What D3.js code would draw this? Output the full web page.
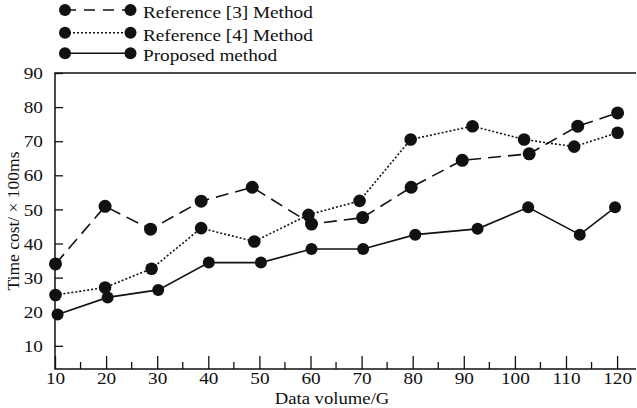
<!DOCTYPE html>
<html>
<head>
<meta charset="utf-8">
<script src="https://cdn.jsdelivr.net/npm/d3@7"></script>
<style>
  body { margin: 0; background: #fff; }
  svg text { font-family: "Liberation Serif", "Times New Roman", serif; fill: #111; }
</style>
</head>
<body>
<div id="chart"></div>
<script>
// Data
const seriesNames = ['Reference [3] Method', 'Reference [4] Method', 'Proposed method'];
const ref3X = [10.1, 19.8, 28.7, 38.6, 48.6, 60.2, 70.2, 79.7, 89.7, 102.8, 112.3, 120.1];
const ref3Y = [34.0, 50.9, 44.2, 52.4, 56.5, 45.7, 47.6, 56.5, 64.4, 66.3, 74.4, 78.3];
const ref4X = [10.1, 19.8, 28.9, 38.6, 49.0, 59.6, 69.6, 79.6, 91.7, 101.8, 111.6, 120.1];
const ref4Y = [24.9, 27.1, 32.6, 44.5, 40.6, 48.4, 52.5, 70.5, 74.4, 70.5, 68.4, 72.5];
const propX = [10.5, 20.3, 30.2, 40.1, 50.3, 60.2, 70.3, 80.5, 92.7, 102.6, 112.7, 119.6];
const propY = [19.2, 24.2, 26.4, 34.4, 34.4, 38.4, 38.4, 42.6, 44.3, 50.6, 42.6, 50.6];
const xTicks = [10, 20, 30, 40, 50, 60, 70, 80, 90, 100, 110, 120];
const xMinorTicks = [15, 25, 35, 45, 55, 65, 75, 85, 95, 105, 115];
const yTicks = [10, 20, 30, 40, 50, 60, 70, 80, 90];

const W = 637, H = 408;
const plot = { left: 55, right: 636, top: 73, bottom: 369 };
const stretch = 'scale(1.1,1)'; // glyphs in the figure are a bit wide

const svg = d3.select('#chart').append('svg')
  .attr('width', W)
  .attr('height', H);

const x = d3.scaleLinear().domain([10, 123.7]).range([plot.left, plot.right]);
const y = d3.scaleLinear().domain([3.2, 90]).range([plot.bottom, plot.top]);

// y axis (ticks point into the plot)
const yAxis = svg.append('g')
  .attr('transform', `translate(${plot.left},0)`)
  .call(d3.axisLeft(y).tickValues(yTicks).tickSize(-8).tickPadding(11));
yAxis.select('.domain').remove();
yAxis.selectAll('line').attr('stroke', '#111').attr('stroke-width', 1.3);
yAxis.selectAll('text').style('font-size', '17.5px').attr('transform', stretch);

// x axis, major and minor ticks inward
const xAxis = svg.append('g')
  .attr('transform', `translate(0,${plot.bottom})`)
  .call(d3.axisBottom(x).tickValues(xTicks).tickSize(-13).tickPadding(3));
xAxis.select('.domain').remove();
xAxis.selectAll('line').attr('stroke', '#111').attr('stroke-width', 1.3);
xAxis.selectAll('text').style('font-size', '17.5px').attr('transform', stretch);

svg.append('g')
  .selectAll('line')
  .data(xMinorTicks)
  .join('line')
  .attr('x1', d => x(d)).attr('x2', d => x(d))
  .attr('y1', plot.bottom).attr('y2', plot.bottom - 7)
  .attr('stroke', '#111').attr('stroke-width', 1.3);

// frame: left, bottom, top
svg.append('path')
  .attr('d', `M${plot.right},${plot.top}H${plot.left}V${plot.bottom}H${plot.right}`)
  .attr('fill', 'none')
  .attr('stroke', '#111')
  .attr('stroke-width', 1.5);

// axis titles
svg.append('text')
  .attr('transform', 'translate(332,404) ' + stretch)
  .attr('text-anchor', 'middle')
  .style('font-size', '17px')
  .text('Data volume/G');

svg.append('text')
  .attr('transform', `translate(19,${(plot.top + plot.bottom) / 2}) rotate(-90)`)
  .attr('text-anchor', 'middle')
  .style('font-size', '17.5px')
  .text('Time cost/ × 100ms');

const styles = [
  { dash: '13,7', r: 6.5 },
  { dash: '2,2', r: 6.3 },
  { dash: null, r: 6 }
];
const series = [
  ref3X.map((v, i) => [v, ref3Y[i]]),
  ref4X.map((v, i) => [v, ref4Y[i]]),
  propX.map((v, i) => [v, propY[i]])
];

const line = d3.line().x(d => x(d[0])).y(d => y(d[1]));

series.forEach((pts, k) => {
  svg.append('path')
    .datum(pts)
    .attr('d', line)
    .attr('fill', 'none')
    .attr('stroke', '#111')
    .attr('stroke-width', 1.6)
    .attr('stroke-dasharray', styles[k].dash);
  svg.append('g')
    .selectAll('circle')
    .data(pts)
    .join('circle')
    .attr('cx', d => x(d[0]))
    .attr('cy', d => y(d[1]))
    .attr('r', styles[k].r)
    .attr('fill', '#111');
});

// legend
const legendRows = [10, 32.7, 53.3];
const legendBaselines = [18.3, 40.7, 60.7];
seriesNames.forEach((name, k) => {
  const g = svg.append('g');
  g.append('line')
    .attr('x1', 65).attr('x2', 130.5)
    .attr('y1', legendRows[k]).attr('y2', legendRows[k])
    .attr('stroke', '#111').attr('stroke-width', 1.6)
    .attr('stroke-dasharray', k === 0 ? '11,8' : styles[k].dash);
  g.selectAll('circle')
    .data([65, 130.5])
    .join('circle')
    .attr('cx', d => d).attr('cy', legendRows[k]).attr('r', 6).attr('fill', '#111');
  g.append('text')
    .attr('transform', `translate(143,${legendBaselines[k]}) ${stretch}`)
    .style('font-size', '17.5px')
    .text(name);
});
</script>
</body>
</html>
